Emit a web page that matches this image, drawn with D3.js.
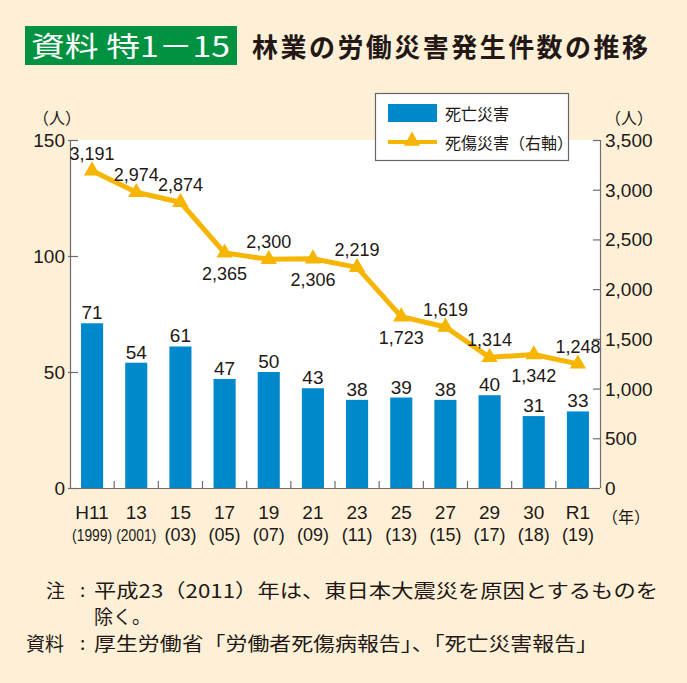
<!DOCTYPE html>
<html><head><meta charset="utf-8">
<script src="https://cdn.jsdelivr.net/npm/d3@7"></script>
<style>body{margin:0;background:#fdf0d7;}svg{display:block;}</style>
</head><body>
<svg id="c" width="687" height="683"></svg>
<script>
const categories = ["H11","13","15","17","19","21","23","25","27","29","30","R1"];
const subLabels = ["(1999)","(2001)","(03)","(05)","(07)","(09)","(11)","(13)","(15)","(17)","(18)","(19)"];
const deaths = [71,54,61,47,50,43,38,39,38,40,31,33];
const casualties = [3191,2974,2874,2365,2300,2306,2219,1723,1619,1314,1342,1248];
const labelBelow = [false,false,false,true,false,true,false,true,false,false,true,false];
const leftTicks = [0,50,100,150];
const rightTicks = [0,500,1000,1500,2000,2500,3000,3500];

const svg = d3.select("#c");
const JP = "'Noto Sans CJK JP','Noto Sans',sans-serif";
const NUM = "'Liberation Sans',Arial,sans-serif";
const NARROW = "'Liberation Sans Narrow','Liberation Sans',Arial,sans-serif";
const blue = "#0088cc", gold = "#f6b500", ink = "#231815";

svg.append("rect").attr("width",687).attr("height",683).attr("fill","#fdf0d7");

// Title
svg.append("rect").attr("x",25).attr("y",26).attr("width",212).attr("height",39).attr("fill","#009240");
svg.append("text").attr("x",31).attr("y",57).attr("fill","#fff").attr("font-family",JP)
  .attr("font-size",28).attr("font-weight",400).attr("textLength",199).attr("lengthAdjust","spacingAndGlyphs").text("資料 特1－15");
svg.append("text").attr("x",252).attr("y",57).attr("fill",ink).attr("font-family",JP)
  .attr("font-size",26).attr("font-weight",700).attr("textLength",396).text("林業の労働災害発生件数の推移");

const L=70, R=600, T=140, B=488;
svg.append("rect").attr("x",L).attr("y",T).attr("width",R-L).attr("height",B-T).attr("fill","#fff");

const x = d3.scaleBand().domain(categories).range([L,R]).paddingInner(0.5).paddingOuter(0.25);
const xb = d3.scaleBand().domain(categories).range([L,R]);
const yL = d3.scaleLinear().domain([0,150]).range([B,T]);
const yR = d3.scaleLinear().domain([0,3500]).range([B,T]);

// Axes
const axL = d3.axisRight(yL).tickValues(leftTicks).tickSize(8).tickFormat("");
const gL = svg.append("g").attr("transform",`translate(${L},0)`).call(axL);
const axR = d3.axisLeft(yR).tickValues(rightTicks).tickSize(7).tickFormat("");
const gR = svg.append("g").attr("transform",`translate(${R},0)`).call(axR);
[gL,gR].forEach(g=>{g.selectAll("path,line").attr("stroke","#6d6d6d").attr("stroke-width",1.2);});
gL.select(".domain").attr("d",`M0.5,${T}V${B}`);
gR.select(".domain").attr("d",`M0.5,${T}V${B}`);
gL.selectAll(".tick line").attr("x1",-2);

// tick labels
svg.append("g").selectAll("text").data(leftTicks).join("text")
  .attr("x",65).attr("y",d=>yL(d)+7).attr("text-anchor","end")
  .attr("font-family",NUM).attr("font-size",19).attr("fill",ink).text(d=>d);
svg.append("g").selectAll("text").data(rightTicks).join("text")
  .attr("x",605).attr("y",d=>yR(d)+7).attr("text-anchor","start")
  .attr("font-family",NUM).attr("font-size",19).attr("fill",ink).text(d=>d3.format(",")(d));

svg.append("text").attr("x",33).attr("y",124).attr("font-family",JP).attr("font-size",16).attr("fill",ink).text("（人）");
svg.append("text").attr("x",605).attr("y",124).attr("font-family",JP).attr("font-size",16).attr("fill",ink).text("（人）");

// Bars
svg.append("g").selectAll("rect").data(deaths).join("rect")
  .attr("x",(d,i)=>x(categories[i])).attr("width",x.bandwidth())
  .attr("y",d=>yL(d)).attr("height",d=>B-yL(d)).attr("fill",blue);
svg.append("g").selectAll("text").data(deaths).join("text")
  .attr("x",(d,i)=>x(categories[i])+x.bandwidth()/2).attr("y",d=>yL(d)-4)
  .attr("text-anchor","middle").attr("font-family",NUM).attr("font-size",19).attr("fill",ink).text(d=>d);

// bottom axis
const axB = d3.axisTop(xb).tickSize(0).tickFormat("");
const gB = svg.append("g").attr("transform",`translate(0,${B})`).call(axB);
gB.select(".domain").attr("stroke","#6d6d6d").attr("stroke-width",1.2).attr("d",`M${L},0.5H${R}`);
svg.append("g").selectAll("line").data(categories.slice(1)).join("line")
  .attr("x1",d=>xb(d)).attr("x2",d=>xb(d)).attr("y1",B-7).attr("y2",B)
  .attr("stroke","#6d6d6d").attr("stroke-width",1.2);

svg.append("g").selectAll("text").data(categories).join("text")
  .attr("x",d=>xb(d)+xb.bandwidth()/2).attr("y",519).attr("text-anchor","middle")
  .attr("font-family",NARROW).attr("font-size",19).attr("fill",ink).text(d=>d);
svg.append("g").selectAll("text").data(subLabels).join("text")
  .attr("x",(d,i)=>xb(categories[i])+xb.bandwidth()/2).attr("y",541).attr("text-anchor","middle")
  .attr("font-family",NARROW).attr("font-size",(d)=>d.length>4?16:18).attr("fill",ink)
  .attr("textLength",(d)=>d.length>4?40:null).attr("lengthAdjust","spacingAndGlyphs").text(d=>d);
svg.append("text").attr("x",602).attr("y",523).attr("font-family",JP).attr("font-size",16).attr("fill",ink).text("（年）");

// Line
const cx = i => xb(categories[i]) + xb.bandwidth()/2;
const line = d3.line().x((d,i)=>cx(i)).y(d=>yR(d));
svg.append("path").datum(casualties).attr("d",line).attr("fill","none")
  .attr("stroke",gold).attr("stroke-width",5).attr("stroke-linejoin","round");
const tri = d3.symbol().type(d3.symbolTriangle).size(115);
svg.append("g").selectAll("path").data(casualties).join("path")
  .attr("d",tri).attr("transform",(d,i)=>`translate(${cx(i)},${yR(d)})`).attr("fill",gold);
svg.append("g").selectAll("text").data(casualties).join("text")
  .attr("x",(d,i)=>cx(i)).attr("y",(d,i)=>labelBelow[i]?yR(d)+27:yR(d)-11)
  .attr("text-anchor","middle").attr("font-family",NARROW).attr("font-size",18).attr("fill",ink)
  .text(d=>d3.format(",")(d));

// Legend
const lg = svg.append("g");
lg.append("rect").attr("x",375.5).attr("y",93.5).attr("width",193).attr("height",67).attr("fill","#fff").attr("stroke","#666").attr("stroke-width",1.2);
lg.append("rect").attr("x",388).attr("y",104).attr("width",49).attr("height",18).attr("fill",blue);
lg.append("text").attr("x",445).attr("y",120).attr("font-family",JP).attr("font-size",16).attr("fill",ink).text("死亡災害");
lg.append("line").attr("x1",388).attr("x2",437).attr("y1",142).attr("y2",142).attr("stroke",gold).attr("stroke-width",4);
lg.append("path").attr("d",tri).attr("transform","translate(412,141)").attr("fill",gold);
lg.append("text").attr("x",445).attr("y",149).attr("font-family",JP).attr("font-size",16).attr("fill",ink).text("死傷災害（右軸）");

// Notes
const notes = svg.append("g").attr("font-family",JP).attr("font-size",19).attr("fill",ink);
notes.append("text").attr("x",46).attr("y",598).text("注");
notes.append("text").attr("x",80).attr("y",597).text(":");
notes.append("text").attr("x",94).attr("y",598).attr("textLength",564).attr("lengthAdjust","spacingAndGlyphs").text("平成23（2011）年は、東日本大震災を原因とするものを");
notes.append("text").attr("x",94).attr("y",624).text("除く。");
notes.append("text").attr("x",26).attr("y",651).text("資料");
notes.append("text").attr("x",80).attr("y",650).text(":");
notes.append("text").attr("x",94).attr("y",651).attr("textLength",504).attr("lengthAdjust","spacingAndGlyphs").text("厚生労働省「労働者死傷病報告」、「死亡災害報告」");
</script>
</body></html>
